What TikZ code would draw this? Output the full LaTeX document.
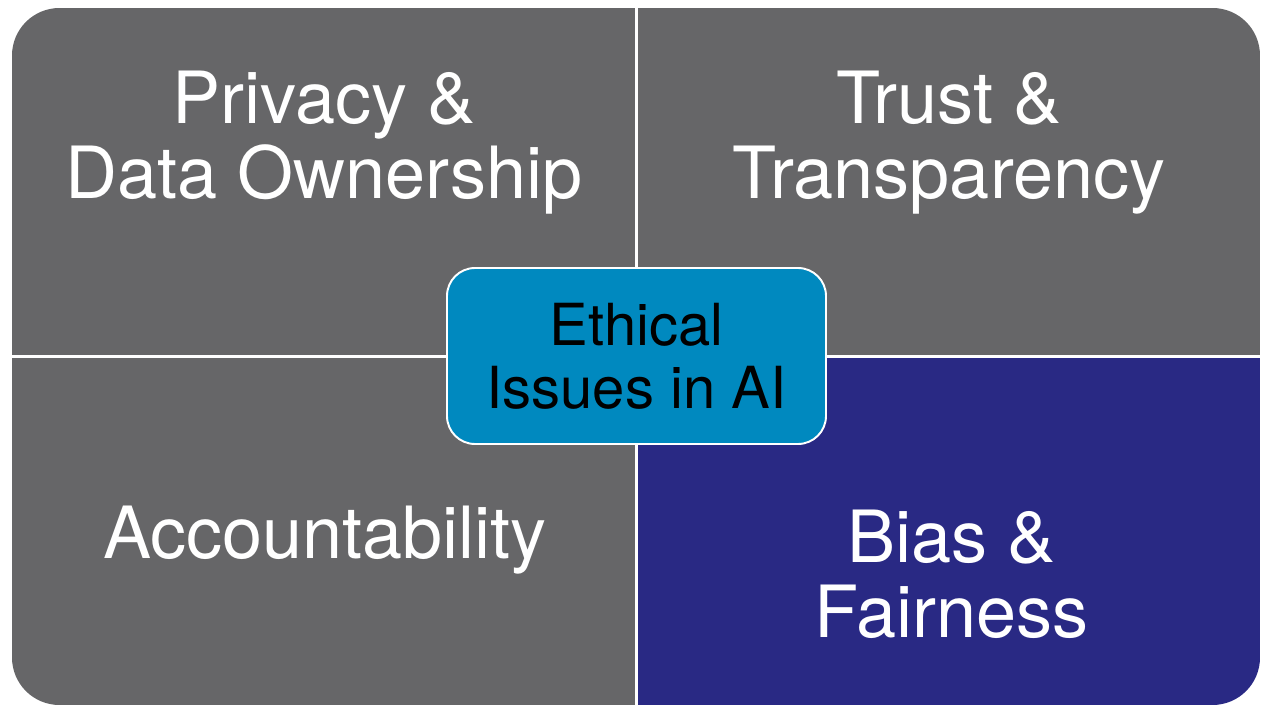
\documentclass[tikz,border=0pt]{standalone}
\usepackage{fontspec}
\setmainfont{TeX Gyre Heros}
\usetikzlibrary{positioning}
\definecolor{quadgray}{RGB}{102,102,104}
\definecolor{quadblue}{RGB}{41,41,132}
\definecolor{hubblue}{RGB}{0,137,191}
\begin{document}
\begin{tikzpicture}[
  quad/.style={draw=none},
  quadtext/.style={font=\fontsize{41pt}{42.7pt}\selectfont,text=white,align=center},
  hub/.style={rectangle,rounded corners=0.56cm,fill=hubblue,draw=white,line width=1.1pt,
    minimum width=7.58cm,minimum height=3.52cm,align=center,text=black,
    font=\fontsize{33pt}{36pt}\selectfont}]
\useasboundingbox (0,0) rectangle (25.6,14.28);
\begin{scope}
\clip[rounded corners=0.95cm] (0.24,0.18) rectangle (25.2,14.12);
\fill[quadgray] (0.24,7.18) rectangle (12.70,14.12);
\fill[quadgray] (12.76,7.18) rectangle (25.2,14.12);
\fill[quadgray] (0.24,0.18) rectangle (12.70,7.12);
\fill[quadblue] (12.76,0.18) rectangle (25.2,7.12);
\end{scope}

\node[quadtext] (privacy) at (6.48,11.42) {Privacy \&\\Data Ownership};
\node[quadtext] (trust) at (18.98,11.42) {Trust \&\\Transparency};
\node[quadtext] (account) at (6.50,3.48) {Accountability};
\node[quadtext] (bias) at (19.03,2.79) {Bias \&\\Fairness};

\node[hub] (ethics) at (12.73,7.16) {Ethical\\Issues in AI};
\end{tikzpicture}
\end{document}
